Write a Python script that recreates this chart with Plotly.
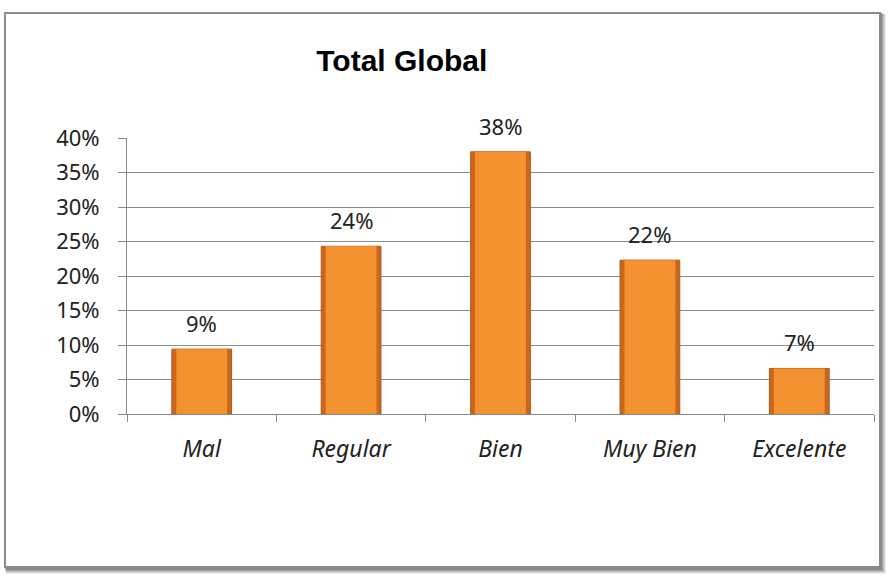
import plotly.graph_objects as go

categories = ["Mal", "Regular", "Bien", "Muy Bien", "Excelente"]
values = [0.094, 0.243, 0.380, 0.223, 0.066]
labels = ["9%", "24%", "38%", "22%", "7%"]
y_ticks = [0, 0.05, 0.10, 0.15, 0.20, 0.25, 0.30, 0.35, 0.40]
y_tick_text = ["0%", "5%", "10%", "15%", "20%", "25%", "30%", "35%", "40%"]

W, H = 889, 578
ML, MR, MT, MB = 127, 15, 138, 164
PW, PH = W - ML - MR, H - MT - MB

def px_x(x):
    return (x - ML) / PW

def px_y(y):
    return 1 - (y - MT) / PH

fig = go.Figure()
fig.add_trace(go.Bar(
    x=categories, y=values,
    marker=dict(color="#C9681C", line=dict(color="#B05A18", width=1)),
    width=0.4,
    hoverinfo="skip",
))
fig.add_trace(go.Bar(
    x=categories, y=values,
    marker=dict(color="#F49231", line=dict(width=0)),
    width=0.34,
    hoverinfo="skip",
))

for c, v, t in zip(categories, values, labels):
    fig.add_annotation(x=c, y=v, text=t, showarrow=False, yanchor="bottom",
                       yshift=9, font=dict(family="Noto Sans", size=22, color="#222"))

shapes = []
for i, a in enumerate([0.10, 0.14, 0.18, 0.24, 0.32]):
    off = 5 - i
    shapes.append(dict(type="rect", xref="paper", yref="paper",
                       x0=px_x(5 + off * 0.2), x1=px_x(881 + off), y0=px_y(569 + off), y1=px_y(13 + off * 0.2),
                       line=dict(width=0), fillcolor=f"rgba(80,80,80,{a})", layer="below"))
shapes.append(dict(type="rect", xref="paper", yref="paper",
                   x0=px_x(5), x1=px_x(880), y0=px_y(567), y1=px_y(13),
                   line=dict(color="#8a8a8a", width=2), fillcolor="white", layer="below"))

fig.update_layout(
    width=W, height=H,
    margin=dict(l=ML, r=MR, t=MT, b=MB),
    paper_bgcolor="white", plot_bgcolor="rgba(0,0,0,0)",
    barmode="overlay", showlegend=False,
    shapes=shapes,
    title=dict(text="<b>Total Global</b>", x=0.452, xanchor="center", y=1 - 60 / H,
               yanchor="middle", font=dict(family="Liberation Sans", size=30, color="#000")),
    font=dict(family="Noto Sans", size=22, color="#222"),
)
fig.update_xaxes(
    showline=True, linecolor="#8a8a8a", linewidth=1,
    ticks="outside", tickson="boundaries", ticklen=7, tickcolor="#8a8a8a",
    tickfont=dict(family="Noto Sans", size=23, style="italic", color="#222"),
    ticklabelstandoff=14, showgrid=False,
)
fig.update_yaxes(
    range=[0, 0.40], tickvals=y_ticks, ticktext=y_tick_text,
    showline=True, linecolor="#8a8a8a", linewidth=1,
    ticks="outside", ticklen=8, tickcolor="#8a8a8a",
    showgrid=True, gridcolor="#8a8a8a", gridwidth=1, zeroline=False,
    ticklabelstandoff=14,
    tickfont=dict(family="Noto Sans", size=22, color="#222"),
)

fig.write_html("out.html")
